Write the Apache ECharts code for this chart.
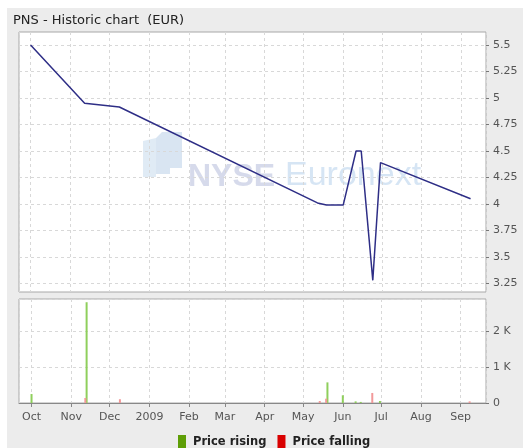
<!DOCTYPE html>
<html>
<head>
<meta charset="utf-8">
<script src="https://cdn.jsdelivr.net/npm/echarts@6/dist/echarts.min.js"></script>
<style>
  html, body { margin: 0; padding: 0; background: #fff; }
  #chart { width: 523px; height: 448px; }
</style>
</head>
<body>
<div id="chart"></div>
<script>
// closing prices
var lineDates = ['2008-10-01', '2008-11-12', '2008-12-09', '2009-05-12', '2009-05-19', '2009-06-01',
                 '2009-06-11', '2009-06-15', '2009-06-24', '2009-06-30', '2009-09-08'];
var lineValues = [5.5, 4.95, 4.915, 4.01, 3.99, 3.99, 4.5, 4.5, 3.28, 4.39, 4.05];

// volumes
var riseDates = ['2008-10-01', '2008-11-13', '2009-05-20', '2009-06-01', '2009-06-11', '2009-06-15', '2009-06-30'];
var riseVols = [250, 2810, 575, 215, 45, 30, 55];
var fallDates = ['2008-11-12', '2008-12-09', '2009-05-14', '2009-05-19', '2009-06-24', '2009-09-08'];
var fallVols = [140, 105, 55, 120, 280, 45];

var monthNames = ['Jan', 'Feb', 'Mar', 'Apr', 'May', 'Jun', 'Jul', 'Aug', 'Sep', 'Oct', 'Nov', 'Dec'];
var xMin = '2008-09-22', xMax = '2009-09-20';

function pairs(d, v) {
  return d.map(function (x, i) { return [x, v[i]]; });
}

var font = 'DejaVu Sans';
var dash = { show: true, lineStyle: { color: '#d8d8d8', type: [3, 3], width: 1 } };

function timeAxis(grid, showLabels) {
  return {
    type: 'time', gridIndex: grid, min: xMin, max: xMax, splitNumber: 12,
    minInterval: 28 * 86400000,
    axisLine: { show: showLabels, lineStyle: { color: '#888' } },
    axisTick: { show: showLabels, inside: false, length: 4, lineStyle: { color: '#888' } },
    axisLabel: {
      show: showLabels, margin: 9, color: '#555', fontFamily: font, fontSize: 11,
      showMinLabel: false, showMaxLabel: false,
      formatter: function (v) {
        var d = new Date(v);
        return d.getMonth() === 0 ? String(d.getFullYear()) : monthNames[d.getMonth()];
      }
    },
    splitLine: grid === 1 ? { show: false } : dash
  };
}

var chart = echarts.init(document.getElementById('chart'));
chart.setOption({
  animation: false,
  backgroundColor: '#fff',
  title: {
    text: 'PNS - Historic chart  (EUR)', left: 13, top: 14, padding: 0,
    textStyle: { fontFamily: font, fontSize: 13, fontWeight: 'normal', color: '#222' }
  },
  legend: {
    top: 435, left: 178, padding: 0, itemWidth: 8, itemHeight: 14, itemGap: 11, icon: 'rect',
    textStyle: { fontFamily: font, fontSize: 11.5, fontWeight: 'bold', color: '#222', padding: [0, 0, 0, 2] },
    data: [
      { name: 'Price rising', itemStyle: { color: '#5e9e06' } },
      { name: 'Price falling', itemStyle: { color: '#d90000' } }
    ]
  },
  graphic: [
    { type: 'rect', z: -10, shape: { x: 7, y: 8, width: 516, height: 440 }, style: { fill: '#ececec' } },
    { type: 'group', z: 1, children: [
      { type: 'polygon', shape: { points: [[143, 141], [156, 138], [156, 177], [143, 177]] }, style: { fill: 'rgba(214,228,242,0.75)' } },
      { type: 'polygon', shape: { points: [[156, 138], [162, 132], [182, 132], [182, 168], [170, 168], [170, 174], [156, 174]] }, style: { fill: 'rgba(204,220,238,0.75)' } },
      { type: 'text', style: { x: 188, y: 193, text: 'NYSE', textVerticalAlign: 'bottom', font: 'bold 32px "Liberation Sans"', fill: 'rgba(196,203,226,0.7)' } },
      { type: 'text', style: { x: 285, y: 193, text: 'Euronext', textVerticalAlign: 'bottom', font: '34px "Liberation Sans"', fill: 'rgba(200,220,240,0.75)' } }
    ] }
  ],
  grid: [
    { left: 19, width: 467, top: 32, height: 260, show: true, backgroundColor: '#fff', borderColor: '#a8a8a8', borderWidth: 1 },
    { left: 19, width: 467, top: 45, height: 238.5 },
    { left: 19, width: 467, top: 299, height: 104, show: true, backgroundColor: '#fff', borderColor: '#a8a8a8', borderWidth: 1 }
  ],
  xAxis: [timeAxis(0, false), timeAxis(1, false), timeAxis(2, true)],
  yAxis: [
    { type: 'value', gridIndex: 0, min: 0, max: 1, show: false, splitLine: { show: false } },
    {
      type: 'value', gridIndex: 1, position: 'right', min: 3.25, max: 5.5, interval: 0.25,
      axisLine: { show: false },
      axisTick: { show: true, length: 3, lineStyle: { color: '#777' } },
      axisLabel: { margin: 7, color: '#555', fontFamily: font, fontSize: 11 },
      splitLine: dash
    },
    {
      type: 'value', gridIndex: 2, position: 'right', min: 0, max: 2900, interval: 1000,
      axisLine: { show: false },
      axisTick: { show: true, length: 3, lineStyle: { color: '#777' } },
      axisLabel: {
        margin: 7, color: '#555', fontFamily: font, fontSize: 11, showMaxLabel: false,
        formatter: function (v) { return v === 0 ? '0' : (v / 1000) + ' K'; }
      },
      splitLine: dash
    }
  ],
  series: [
    {
      name: 'Close', type: 'line', xAxisIndex: 1, yAxisIndex: 1, data: pairs(lineDates, lineValues),
      showSymbol: false, lineStyle: { color: '#2e2e86', width: 1.5 }, z: 3
    },
    {
      name: 'Price rising', type: 'bar', xAxisIndex: 2, yAxisIndex: 2, data: pairs(riseDates, riseVols),
      barWidth: 2, barGap: '-100%', itemStyle: { color: '#8fcf5c' }
    },
    {
      name: 'Price falling', type: 'bar', xAxisIndex: 2, yAxisIndex: 2, data: pairs(fallDates, fallVols),
      barWidth: 2, barGap: '-100%', itemStyle: { color: '#f2999a' }
    }
  ]
});
</script>
</body>
</html>
